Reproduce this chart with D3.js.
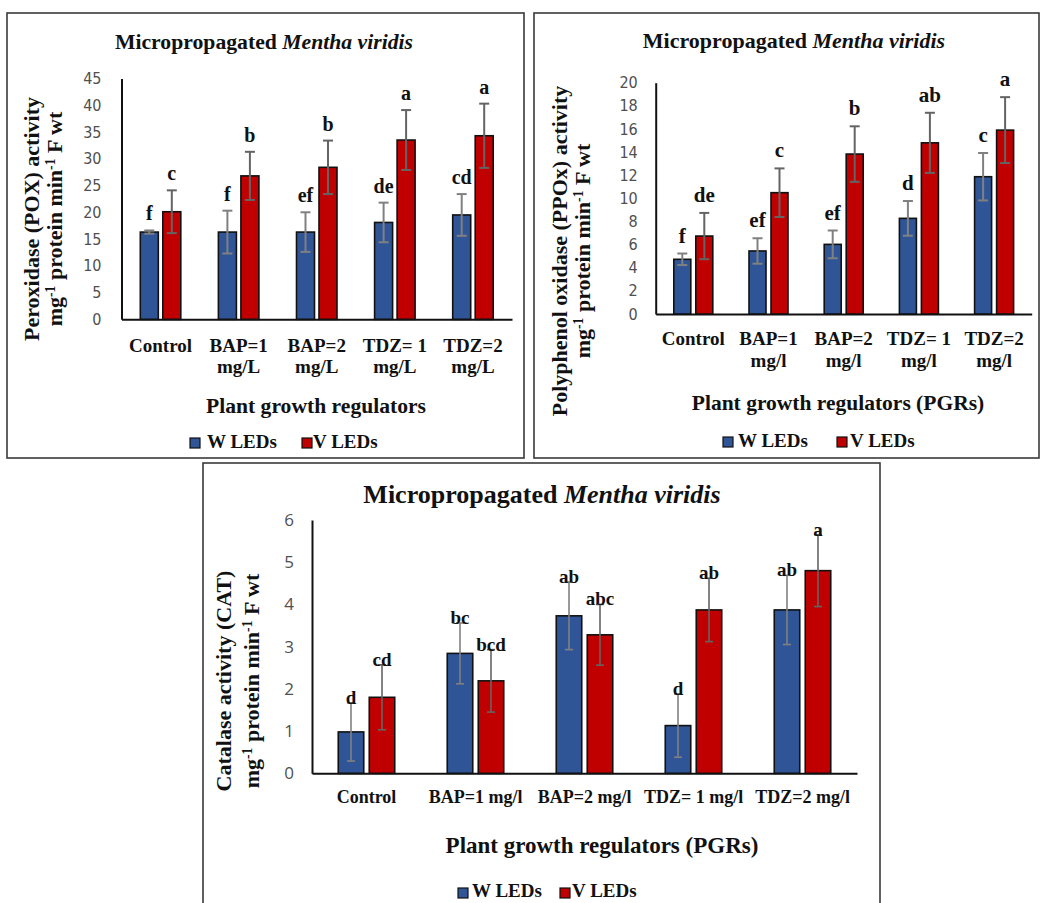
<!DOCTYPE html>
<html>
<head>
<meta charset="utf-8">
<script src="https://cdn.jsdelivr.net/npm/d3@7"></script>
<style>
  body { margin: 0; background: #fff; }
  svg text { font-family: "Liberation Serif", "Times New Roman", serif; }
</style>
</head>
<body>
<svg id="chart" width="1041" height="903"></svg>
<script>
//
// Three grouped bar charts, Micropropagated Mentha viridis
//
const series = ["W LEDs", "V LEDs"]
const seriesColors = ["#2f5597", "#c00000"]
const errColors = ["#808080", "#646464"]

// Peroxidase (POX)
const poxCategories = ["Control", "BAP=1\nmg/L", "BAP=2\nmg/L", "TDZ= 1\nmg/L", "TDZ=2\nmg/L"]
const poxW = [16.3, 16.3, 16.3, 18.1, 19.5]
const poxWErr = [0.3, 4.0, 3.7, 3.7, 3.9]
const poxV = [20.1, 26.8, 28.4, 33.5, 34.3]
const poxVErr = [4.0, 4.5, 5.0, 5.6, 6.0]
const poxWLetters = ["f", "f", "ef", "de", "cd"]
const poxVLetters = ["c", "b", "b", "a", "a"]
const poxTicks = [0, 5, 10, 15, 20, 25, 30, 35, 40, 45]

// Polyphenol oxidase (PPOx)
const ppoCategories = ["Control", "BAP=1\nmg/l", "BAP=2\nmg/l", "TDZ= 1\nmg/l", "TDZ=2\nmg/l"]
const ppoW = [4.73, 5.45, 6.02, 8.27, 11.87]
const ppoWErr = [0.5, 1.1, 1.2, 1.5, 2.05]
const ppoV = [6.74, 10.49, 13.83, 14.8, 15.9]
const ppoVErr = [2.0, 2.1, 2.4, 2.6, 2.85]
const ppoWLetters = ["f", "ef", "ef", "d", "c"]
const ppoVLetters = ["de", "c", "b", "ab", "a"]
const ppoTicks = [0, 2, 4, 6, 8, 10, 12, 14, 16, 18, 20]

// Catalase (CAT)
const catCategories = ["Control", "BAP=1 mg/l", "BAP=2 mg/l", "TDZ= 1 mg/l", "TDZ=2 mg/l"]
const catW = [0.98, 2.84, 3.73, 1.13, 3.87]
const catWErr = [0.69, 0.72, 0.8, 0.75, 0.82]
const catV = [1.8, 2.19, 3.28, 3.87, 4.8]
const catVErr = [0.77, 0.74, 0.72, 0.75, 0.85]
const catWLetters = ["d", "bc", "ab", "d", "ab"]
const catVLetters = ["cd", "bcd", "abc", "ab", "a"]
const catTicks = [0, 1, 2, 3, 4, 5, 6]

const tickFont = "'Liberation Sans Narrow', 'DejaVu Sans Condensed', 'Open Sans', sans-serif"

const svg = d3.select("#chart")

const panels = [
  {
    categories: poxCategories, w: poxW, wErr: poxWErr, v: poxV, vErr: poxVErr,
    wLet: poxWLetters, vLet: poxVLetters, ticks: poxTicks,
    box: [7, 13, 524, 458],
    xRange: [121.5, 512], yRange: [319.3, 78.5],
    barW: 18, gap: 4.5, capW: 10, errStroke: 2,
    title: [264, 49, 21.7],
    yTitle: ["Peroxidase (POX) activity", 39, 62, 219, 22],
    tickSize: 16, tickFontFamily: tickFont, tickPad: 20,
    catBase: [352, 373], catSize: 19,
    xTitle: ["Plant growth regulators", 316, 413, 21.6],
    legend: { sq: [190, 302], y: 438, tx: [207, 313], base: 448, size: 19 },
    letterSize: 20, letterOff: 10
  },
  {
    categories: ppoCategories, w: ppoW, wErr: ppoWErr, v: ppoV, vErr: ppoVErr,
    wLet: ppoWLetters, vLet: ppoVLetters, ticks: ppoTicks,
    box: [534, 13, 1039, 458],
    xRange: [655.7, 1031.7], yRange: [314, 82.7],
    barW: 17, gap: 5, capW: 10, errStroke: 2,
    title: [794, 48, 22],
    yTitle: ["Polyphenol oxidase (PPOx) activity", 567, 590, 251, 22],
    tickSize: 16, tickFontFamily: tickFont, tickPad: 18,
    catBase: [345, 367], catSize: 19,
    xTitle: ["Plant growth regulators (PGRs)", 838, 410, 21.5],
    legend: { sq: [723, 837], y: 437, tx: [738, 850], base: 447, size: 19 },
    letterSize: 21, letterOff: 11
  },
  {
    categories: catCategories, w: catW, wErr: catWErr, v: catV, vErr: catVErr,
    wLet: catWLetters, vLet: catVLetters, ticks: catTicks,
    box: [203, 463, 880, 910],
    xRange: [312, 857], yRange: [773.3, 520],
    barW: 25.5, gap: 5.5, capW: 8, errStroke: 1.6,
    title: [542, 503, 26],
    yTitle: ["Catalase activity (CAT)", 231, 259, 681, 22],
    tickSize: 17, tickFontFamily: "'Open Sans', sans-serif", tickPad: 18,
    catBase: [803], catSize: 18,
    xTitle: ["Plant growth regulators (PGRs)", 602, 853, 23],
    legend: { sq: [458, 560], y: 888, tx: [472, 572], base: 897, size: 19 },
    letterSize: 19, letterOff: -1
  }
]

panels.forEach(drawPanel)

function drawPanel(p) {
  const g = svg.append("g")

  // frame
  g.append("rect")
    .attr("x", p.box[0]).attr("y", p.box[1])
    .attr("width", p.box[2] - p.box[0]).attr("height", p.box[3] - p.box[1])
    .attr("fill", "none").attr("stroke", "#3a3a3a").attr("stroke-width", 1.6)

  const x = d3.scaleBand().domain(p.categories).range(p.xRange)
  const groupW = 2 * p.barW + p.gap
  const sub = d3.scaleBand().domain(series)
    .range([(x.step() - groupW) / 2, (x.step() + groupW) / 2])
    .paddingInner(p.gap / (p.barW + p.gap))
  const y = d3.scaleLinear().domain([0, d3.max(p.ticks)]).range(p.yRange)
  const color = d3.scaleOrdinal().domain(series).range(seriesColors)
  const errColor = d3.scaleOrdinal().domain(series).range(errColors)

  // Y axis
  const yAxis = g.append("g")
    .attr("transform", `translate(${p.xRange[0]},0)`)
    .call(d3.axisLeft(y).tickValues(p.ticks).tickFormat(d3.format("d"))
      .tickSize(0).tickPadding(p.tickPad))
  yAxis.select(".domain").attr("stroke", "#111").attr("stroke-width", 2)
  yAxis.selectAll("text")
    .style("font-family", p.tickFontFamily)
    .attr("font-size", p.tickSize)
    .attr("fill", "#505050")

  // X axis
  const xAxis = g.append("g")
    .attr("transform", `translate(0,${y(0)})`)
    .call(d3.axisBottom(x).tickSize(0))
  xAxis.select(".domain").attr("stroke", "#111").attr("stroke-width", 2)
  xAxis.selectAll(".tick text").each(function(d) {
    const t = d3.select(this).attr("dy", null).attr("y", null).text(null)
      .attr("font-size", p.catSize).attr("font-weight", "bold").attr("fill", "#111")
    d.split("\n").forEach((line, i) => {
      t.append("tspan").attr("x", 0).attr("y", p.catBase[i] - y(0)).text(line)
    })
  })

  // rows
  const rows = p.categories.flatMap((c, i) => [
    { cat: c, s: series[0], v: p.w[i], e: p.wErr[i], l: p.wLet[i] },
    { cat: c, s: series[1], v: p.v[i], e: p.vErr[i], l: p.vLet[i] }
  ])
  const cx = d => x(d.cat) + sub(d.s) + sub.bandwidth() / 2

  // Bars
  g.selectAll("rect.bar")
    .data(rows)
    .enter()
    .append("rect")
      .attr("class", "bar")
      .attr("x", d => x(d.cat) + sub(d.s))
      .attr("width", sub.bandwidth())
      .attr("y", d => y(d.v))
      .attr("height", d => y(0) - y(d.v))
      .attr("fill", d => color(d.s))
      .attr("stroke", "#111")
      .attr("stroke-width", 1.6)

  // Error bars
  const eb = g.selectAll("g.err")
    .data(rows)
    .enter()
    .append("g")
      .attr("stroke", d => errColor(d.s))
      .attr("stroke-width", p.errStroke)
  eb.append("line")
    .attr("x1", cx).attr("x2", cx)
    .attr("y1", d => y(d.v - d.e)).attr("y2", d => y(d.v + d.e))
  eb.append("line")
    .attr("x1", d => cx(d) - p.capW / 2).attr("x2", d => cx(d) + p.capW / 2)
    .attr("y1", d => y(d.v + d.e)).attr("y2", d => y(d.v + d.e))
  eb.append("line")
    .attr("x1", d => cx(d) - p.capW / 2).attr("x2", d => cx(d) + p.capW / 2)
    .attr("y1", d => y(d.v - d.e)).attr("y2", d => y(d.v - d.e))

  // Significance letters
  g.selectAll("text.letter")
    .data(rows)
    .enter()
    .append("text")
      .attr("x", cx)
      .attr("y", d => y(d.v + d.e) - p.letterOff)
      .attr("text-anchor", "middle")
      .attr("font-size", p.letterSize)
      .attr("font-weight", "bold")
      .attr("fill", "#111")
      .text(d => d.l)

  // Title
  const title = g.append("text")
    .attr("x", p.title[0]).attr("y", p.title[1])
    .attr("text-anchor", "middle")
    .attr("font-size", p.title[2])
    .attr("font-weight", "bold")
    .attr("fill", "#111")
  title.append("tspan").text("Micropropagated ")
  title.append("tspan").attr("font-style", "italic").text("Mentha viridis")

  // Y title, two lines
  const [yLine1, bx1, bx2, ymid, ysize] = p.yTitle
  g.append("text")
    .attr("transform", `translate(${bx1},${ymid}) rotate(-90)`)
    .attr("text-anchor", "middle")
    .attr("font-size", ysize).attr("font-weight", "bold").attr("fill", "#111")
    .text(yLine1)
  const yl2 = g.append("text")
    .attr("transform", `translate(${bx2},${ymid}) rotate(-90)`)
    .attr("text-anchor", "middle")
    .attr("font-size", ysize).attr("font-weight", "bold").attr("fill", "#111")
  yl2.append("tspan").text("mg")
  yl2.append("tspan").attr("baseline-shift", "super").attr("font-size", "62%").text("-1")
  yl2.append("tspan").text(" protein  min")
  yl2.append("tspan").attr("baseline-shift", "super").attr("font-size", "62%").text("-1")
  yl2.append("tspan").text(" F wt")

  // X title
  g.append("text")
    .attr("x", p.xTitle[1]).attr("y", p.xTitle[2])
    .attr("text-anchor", "middle")
    .attr("font-size", p.xTitle[3]).attr("font-weight", "bold").attr("fill", "#111")
    .text(p.xTitle[0])

  // Legend
  series.forEach((s, i) => {
    g.append("rect")
      .attr("x", p.legend.sq[i]).attr("y", p.legend.y)
      .attr("width", 10).attr("height", 10)
      .attr("fill", seriesColors[i]).attr("stroke", "#111").attr("stroke-width", 1.2)
    g.append("text")
      .attr("x", p.legend.tx[i]).attr("y", p.legend.base)
      .attr("font-size", p.legend.size).attr("font-weight", "bold").attr("fill", "#111")
      .text(s)
  })
}
</script>
</body>
</html>
